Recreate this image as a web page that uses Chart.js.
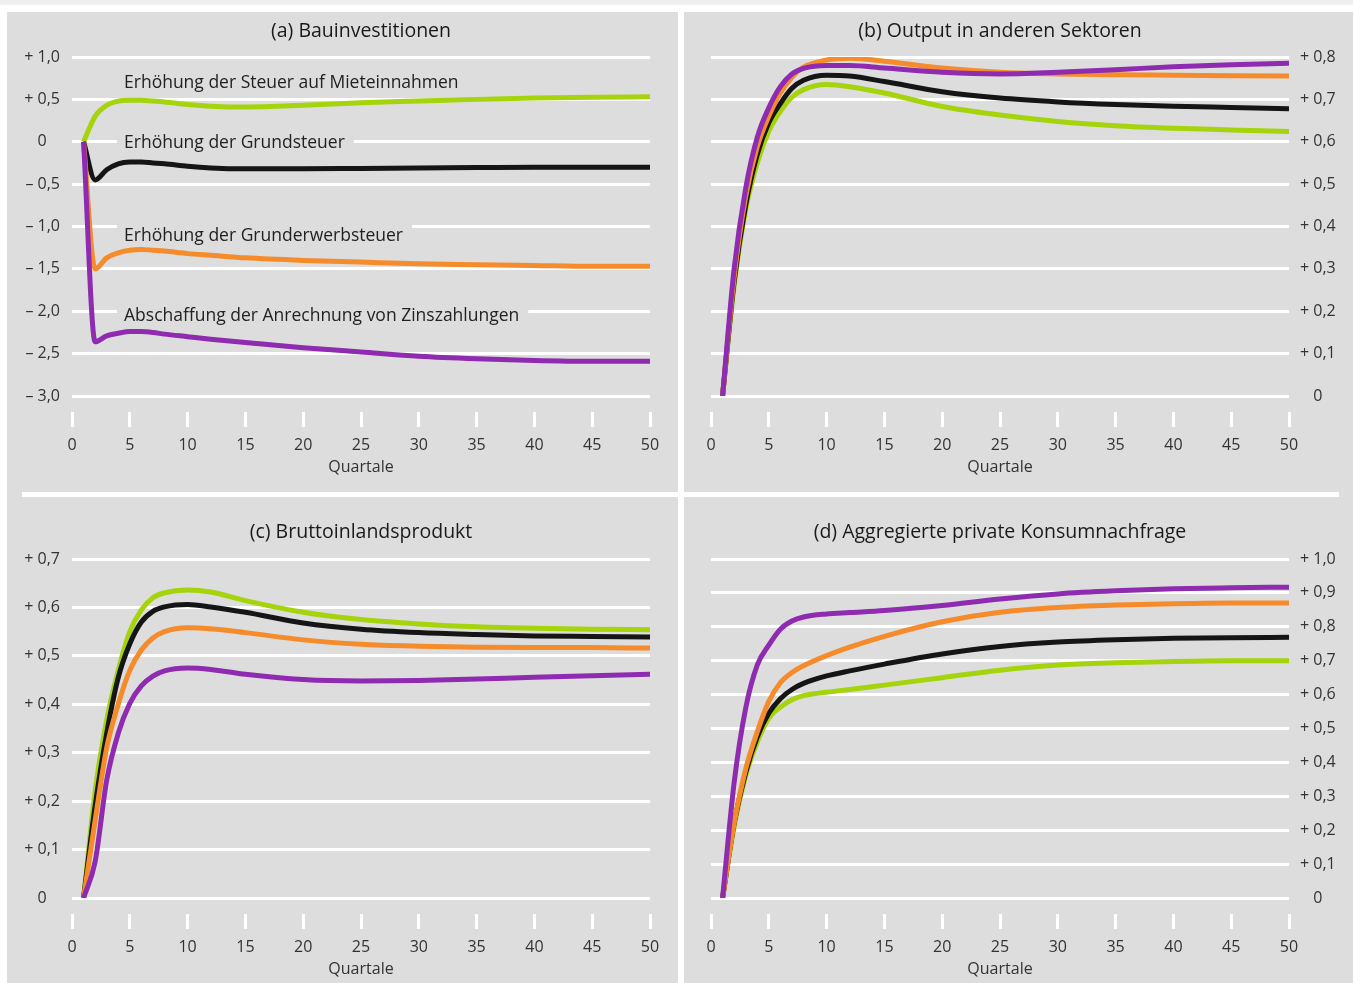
<!DOCTYPE html>
<html lang="de">
<head>
<meta charset="utf-8">
<title>Bauinvestitionen und gesamtwirtschaftliche Effekte</title>
<script src="https://cdn.jsdelivr.net/npm/chart.js@4.4.1/dist/chart.umd.min.js"></script>
<style>
  html, body { margin: 0; padding: 0; background: #fff; }
  body { width: 1353px; height: 983px; position: relative; overflow: hidden; }
  #topStrip { position: absolute; left: 0; top: 0; width: 1353px; height: 5px; background: #efefef; }
  #panelBg { position: absolute; left: 7px; top: 12px; width: 1346px; height: 971px; background: #dcdddc; }
  #vSep { position: absolute; left: 678px; top: 12px; width: 6px; height: 971px; background: #fff; }
  #hSep { position: absolute; left: 22px; top: 492px; width: 1317px; height: 5px; background: #fff; }
  canvas { position: absolute; }
</style>
</head>
<body>
<div id="topStrip"></div>
<div id="panelBg"></div>
<div id="vSep"></div>
<div id="hSep"></div>
<canvas id="chartA" width="671" height="469" style="left:7px;top:12px"></canvas>
<canvas id="chartB" width="669" height="469" style="left:684px;top:12px"></canvas>
<canvas id="chartC" width="671" height="486" style="left:7px;top:497px"></canvas>
<canvas id="chartD" width="669" height="486" style="left:684px;top:497px"></canvas>
<script>
// Quartale (x values)
const quarters = [1, 2, 3, 4, 5, 6, 7, 8, 10, 12, 15, 20, 25, 30, 35, 40, 45, 50];

// (a) Bauinvestitionen
const aMiete = [0, 0.30, 0.43, 0.48, 0.49, 0.49, 0.48, 0.47, 0.44, 0.42, 0.41, 0.43, 0.46, 0.48, 0.50, 0.515, 0.525, 0.53];
const aGrund = [0, -0.45, -0.33, -0.26, -0.24, -0.24, -0.25, -0.26, -0.29, -0.31, -0.32, -0.32, -0.315, -0.31, -0.305, -0.30, -0.30, -0.30];
const aErwerb = [0, -1.5, -1.37, -1.31, -1.28, -1.27, -1.28, -1.29, -1.32, -1.34, -1.37, -1.40, -1.42, -1.44, -1.45, -1.46, -1.47, -1.47];
const aZins = [0, -2.36, -2.29, -2.26, -2.24, -2.24, -2.25, -2.27, -2.30, -2.33, -2.37, -2.43, -2.48, -2.53, -2.56, -2.58, -2.59, -2.59];

// (b) Output in anderen Sektoren
const bMiete = [0, 0.26, 0.44, 0.55, 0.625, 0.672, 0.705, 0.723, 0.735, 0.73, 0.715, 0.683, 0.663, 0.648, 0.638, 0.632, 0.628, 0.624];
const bGrund = [0, 0.27, 0.45, 0.57, 0.645, 0.69, 0.726, 0.745, 0.757, 0.755, 0.742, 0.718, 0.703, 0.694, 0.688, 0.684, 0.681, 0.678];
const bErwerb = [0, 0.28, 0.47, 0.588, 0.66, 0.715, 0.752, 0.776, 0.793, 0.797, 0.79, 0.774, 0.764, 0.76, 0.758, 0.757, 0.756, 0.755];
const bZins = [0, 0.30, 0.49, 0.61, 0.68, 0.73, 0.76, 0.773, 0.78, 0.78, 0.774, 0.764, 0.76, 0.764, 0.77, 0.777, 0.782, 0.785];

// (c) Bruttoinlandsprodukt
const cMiete = [0, 0.22, 0.367, 0.47, 0.55, 0.595, 0.62, 0.63, 0.636, 0.632, 0.614, 0.59, 0.575, 0.566, 0.56, 0.557, 0.555, 0.554];
const cGrund = [0, 0.19, 0.34, 0.455, 0.525, 0.57, 0.592, 0.601, 0.606, 0.601, 0.59, 0.568, 0.555, 0.548, 0.544, 0.541, 0.54, 0.539];
const cErwerb = [0, 0.16, 0.31, 0.40, 0.47, 0.512, 0.537, 0.55, 0.558, 0.556, 0.548, 0.533, 0.524, 0.52, 0.518, 0.517, 0.517, 0.516];
const cZins = [0, 0.075, 0.243, 0.34, 0.402, 0.438, 0.458, 0.469, 0.475, 0.472, 0.462, 0.451, 0.448, 0.449, 0.452, 0.456, 0.459, 0.462];

// (d) Aggregierte private Konsumnachfrage
const dMiete = [0, 0.21, 0.36, 0.46, 0.53, 0.563, 0.585, 0.597, 0.607, 0.615, 0.628, 0.65, 0.672, 0.687, 0.694, 0.698, 0.70, 0.70];
const dGrund = [0, 0.22, 0.37, 0.475, 0.545, 0.588, 0.615, 0.633, 0.655, 0.67, 0.69, 0.72, 0.742, 0.755, 0.762, 0.766, 0.768, 0.769];
const dErwerb = [0, 0.22, 0.38, 0.49, 0.58, 0.635, 0.665, 0.685, 0.715, 0.74, 0.772, 0.815, 0.843, 0.857, 0.864, 0.868, 0.87, 0.87];
const dZins = [0, 0.34, 0.56, 0.687, 0.746, 0.793, 0.817, 0.829, 0.838, 0.842, 0.848, 0.863, 0.882, 0.897, 0.906, 0.912, 0.915, 0.917];

const titles = [
  "(a) Bauinvestitionen",
  "(b) Output in anderen Sektoren",
  "(c) Bruttoinlandsprodukt",
  "(d) Aggregierte private Konsumnachfrage",
];
const seriesNames = [
  "Abschaffung der Anrechnung von Zinszahlungen",
  "Erhöhung der Grunderwerbsteuer",
  "Erhöhung der Grundsteuer",
  "Erhöhung der Steuer auf Mieteinnahmen",
];
// label anchor points in panel (a), in data units (Quartal, Wert)
const labelX = [4.5, 4.5, 4.5, 4.5];
const labelY = [-2.04, -1.1, 0, 0.7];
const xTitle = "Quartale";

const COLORS = ["#8e2bb0", "#f68b2b", "#151515", "#a5d30c"];
const BG = "#dcdddc";
const FONT = "'Open Sans', 'Noto Sans', sans-serif";

Chart.defaults.font.family = FONT;
Chart.defaults.font.size = 16;
Chart.defaults.color = "#333";

function fmt(v, side) {
  const r = Math.round(v * 10) / 10;
  if (r === 0) return side === "left" ? "0\u2008\u2007" : "\u2007 0";
  const s = Math.abs(r).toFixed(1).replace(".", ",");
  return (r > 0 ? "+ " : "\u2013 ") + s;
}

const labelPlugin = {
  id: "seriesLabels",
  beforeDatasetsDraw(chart) {
    const { ctx, scales } = chart;
    ctx.save();
    ctx.font = "17.5px " + FONT;
    ctx.textBaseline = "middle";
    seriesNames.forEach((t, i) => {
      const x = scales.x.getPixelForValue(labelX[i]);
      const y = scales.y.getPixelForValue(labelY[i]);
      const w = ctx.measureText(t).width;
      ctx.fillStyle = BG;
      ctx.fillRect(x - 7, y - 10, w + 16, 20);
      ctx.fillStyle = "#222";
      ctx.fillText(t, x, y + 1);
    });
    ctx.restore();
  },
};

// title box: text centred at `mid`, plot area starting at `areaTop` (canvas px)
function titlePad(mid, areaTop) {
  const lh = 19.5 * 1.2;
  return { top: mid - lh / 2, bottom: areaTop - mid - lh / 2 };
}

function makeChart(id, title, series, yMin, yMax, yStep, side, pad) {
  const datasets = series.map((vals, i) => ({
    label: seriesNames[i],
    data: vals.map((v, j) => ({ x: quarters[j], y: v })),
    borderColor: COLORS[i],
    backgroundColor: COLORS[i],
    borderWidth: 5,
    pointRadius: 0,
    cubicInterpolationMode: "monotone",
  }));
  return new Chart(document.getElementById(id), {
    type: "line",
    data: { datasets },
    plugins: id === "chartA" ? [labelPlugin] : [],
    options: {
      responsive: false,
      animation: false,
      layout: { padding: side === "left" ? { right: 28 } : { left: 27 } },
      plugins: {
        legend: { display: false },
        tooltip: { enabled: false },
        title: {
          display: true,
          fullSize: false,
          text: title,
          color: "#1a1a1a",
          font: { size: 19.5, weight: "normal" },
          padding: pad,
        },
      },
      scales: {
        x: {
          type: "linear",
          min: 0,
          max: 50,
          border: { display: false },
          grid: {
            drawOnChartArea: false,
            drawTicks: true,
            tickLength: 31,
            tickColor: "#fff",
            tickWidth: 3,
            tickBorderDash: [0, 16, 15, 40],
          },
          ticks: { stepSize: 5, padding: 9, maxRotation: 0 },
          title: { display: true, text: xTitle, padding: { top: 0, bottom: 4 } },
          afterFit(s) { s.height = 85; },
        },
        y: {
          position: side,
          min: yMin,
          max: yMax,
          border: { display: false },
          grid: { color: "#fff", lineWidth: 3, drawTicks: false },
          ticks: {
            stepSize: yStep,
            padding: side === "left" ? 12 : 11,
            callback: (v) => fmt(v, side),
          },
          afterFit(s) { s.width = side === "left" ? 65 : 64; },
        },
      },
    },
  });
}

makeChart("chartA", titles[0], [aZins, aErwerb, aGrund, aMiete], -3, 1, 0.5, "left", titlePad(19.5, 45));
makeChart("chartB", titles[1], [bZins, bErwerb, bGrund, bMiete], 0, 0.8, 0.1, "right", titlePad(19.5, 45));
makeChart("chartC", titles[2], [cZins, cErwerb, cGrund, cMiete], 0, 0.7, 0.1, "left", titlePad(35.5, 62));
makeChart("chartD", titles[3], [dZins, dErwerb, dGrund, dMiete], 0, 1.0, 0.1, "right", titlePad(35.5, 62));
</script>
</body>
</html>
